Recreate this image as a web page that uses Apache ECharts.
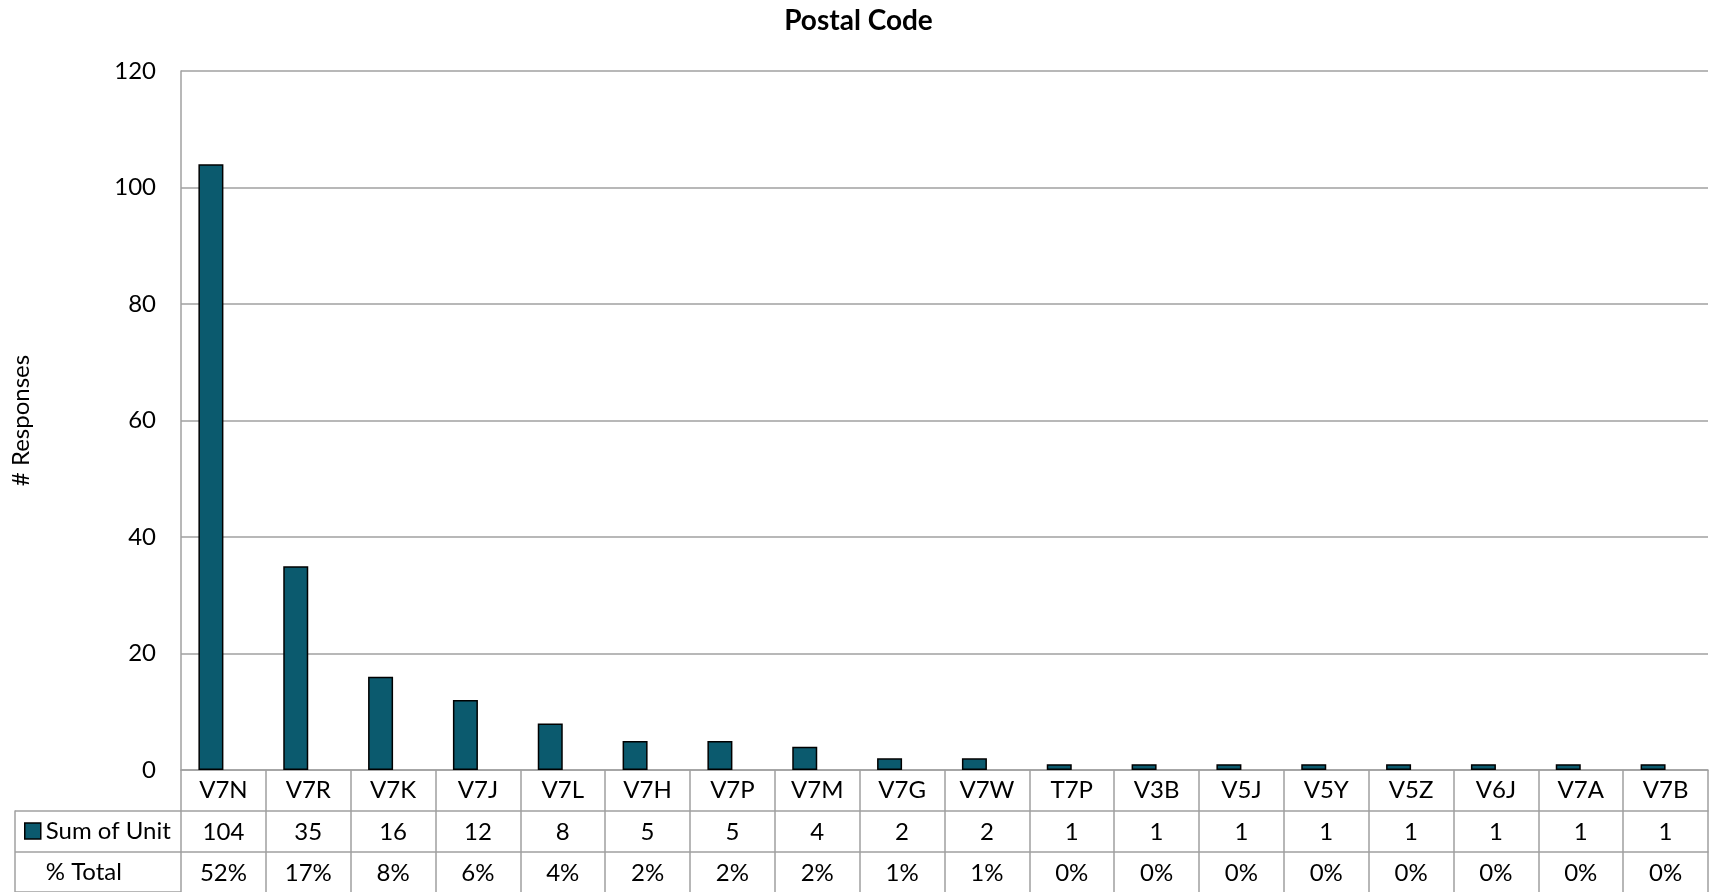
<!DOCTYPE html>
<html>
<head>
<meta charset="utf-8">
<script src="https://cdn.jsdelivr.net/npm/echarts@6/dist/echarts.min.js"></script>
<style>
html,body{margin:0;padding:0;background:#fff;}
#c{width:1717px;height:892px;}
</style>
</head>
<body>
<div id="c"></div>
<script>
const categories = ['V7N','V7R','V7K','V7J','V7L','V7H','V7P','V7M','V7G','V7W','T7P','V3B','V5J','V5Y','V5Z','V6J','V7A','V7B'];
const sumOfUnit = [104,35,16,12,8,5,5,4,2,2,1,1,1,1,1,1,1,1];
const pctTotal = [52,17,8,6,4,2,2,2,1,1,0,0,0,0,0,0,0,0];
const yMin = 0, yMax = 120, yInterval = 20;

const FONT = 'Lato';
const GRID_COLOR = '#a0a0a0';
const BAR_COLOR = '#0b5a6e';
const TXT = {fontFamily: FONT, fontSize: 24, color: '#000'};

const chart = echarts.init(document.getElementById('c'), null, {renderer: 'canvas'});
const option = {
  animation: false,
  backgroundColor: '#fff',
  title: {
    text: 'Postal Code',
    left: 'center',
    top: 7,
    padding: 0,
    textStyle: {fontFamily: FONT, fontSize: 28, fontWeight: 'bold', color: '#000'}
  },
  legend: {
    orient: 'vertical',
    left: 24,
    top: 819,
    padding: 0,
    itemWidth: 16,
    itemHeight: 16,
    itemGap: 17,
    selectedMode: false,
    textStyle: {fontFamily: FONT, fontSize: 24, color: '#000', lineHeight: 24},
    data: [
      {name: 'Sum of Unit', icon: 'rect', itemStyle: {color: BAR_COLOR, borderColor: '#000', borderWidth: 1.5}},
      {name: '% Total', icon: 'none'}
    ]
  },
  grid: [
    {left: 181, right: 9, top: 71, bottom: 122},
    {left: 15, width: 166, top: 811, height: 81}
  ],
  xAxis: [
    {
      type: 'category', gridIndex: 0, data: categories, position: 'bottom',
      axisLine: {show: true, lineStyle: {color: GRID_COLOR, width: 1.5}},
      axisTick: {show: true, alignWithLabel: false, interval: 0, length: 122, inside: false, lineStyle: {color: GRID_COLOR, width: 1.5}},
      axisLabel: Object.assign({interval: 0, margin: 8}, TXT),
      splitLine: {show: false}
    },
    {
      type: 'category', gridIndex: 0, data: categories, position: 'bottom', offset: 41,
      axisLine: {show: true, lineStyle: {color: GRID_COLOR, width: 1.5}},
      axisTick: {show: false},
      axisLabel: Object.assign({interval: 0, margin: 9, formatter: (v, i) => String(sumOfUnit[i])}, TXT)
    },
    {
      type: 'category', gridIndex: 0, data: categories, position: 'bottom', offset: 82,
      axisLine: {show: true, lineStyle: {color: GRID_COLOR, width: 1.5}},
      axisTick: {show: false},
      axisLabel: Object.assign({interval: 0, margin: 9, formatter: (v, i) => pctTotal[i] + '%'}, TXT)
    },
    {
      type: 'category', gridIndex: 1, data: [''], show: false
    }
  ],
  yAxis: [
    {
      type: 'value', gridIndex: 0, min: yMin, max: yMax, interval: yInterval,
      name: '# Responses', nameLocation: 'middle', nameGap: 148, nameRotate: 90,
      nameTextStyle: {fontFamily: FONT, fontSize: 24, color: '#000'},
      axisLine: {show: true, lineStyle: {color: GRID_COLOR, width: 1.5}},
      axisTick: {show: false},
      axisLabel: Object.assign({margin: 25}, TXT),
      splitLine: {show: true, lineStyle: {color: GRID_COLOR, width: 1.5}}
    },
    {
      type: 'value', gridIndex: 1, min: 0, max: 2, interval: 1,
      axisLine: {show: true, lineStyle: {color: GRID_COLOR, width: 1.5}},
      axisTick: {show: false},
      axisLabel: {show: false},
      splitLine: {show: true, lineStyle: {color: GRID_COLOR, width: 1.5}}
    }
  ],
  series: [
    {
      name: 'Sum of Unit', type: 'bar', xAxisIndex: 0, yAxisIndex: 0,
      data: sumOfUnit, barWidth: 25, barGap: '0%',
      itemStyle: {color: BAR_COLOR, borderColor: '#000', borderWidth: 1.5}
    },
    {
      name: '% Total', type: 'bar', xAxisIndex: 0, yAxisIndex: 0,
      data: pctTotal.map(p => p / 100), barWidth: 25, barGap: '0%',
      itemStyle: {color: 'rgba(0,0,0,0)', borderWidth: 0}
    }
  ]
};
chart.setOption(option);
</script>
</body>
</html>
